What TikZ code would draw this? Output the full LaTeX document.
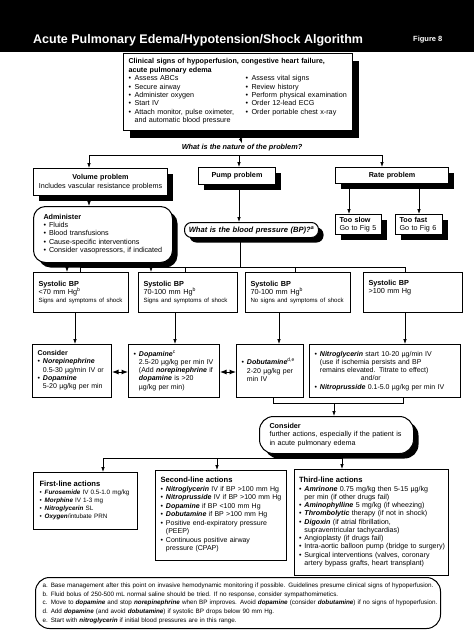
\documentclass[tikz,border=0pt]{standalone}
\usepackage{fontspec}
\setmainfont{Liberation Sans}
\usetikzlibrary{arrows.meta,shadows}
\newcommand\fs[2]{\fontsize{#1}{#2}\selectfont}
\newcommand\bl{\textbullet}
\newcommand\bi[1]{\textbf{\textit{#1}}}
\newcommand\sps[1]{\textsuperscript{#1}}
\newcommand\smtxt{\fs{6.1}{8.3}}
\begin{document}
\begin{tikzpicture}[x=1pt,y=-1pt,
  box/.style={draw, line width=1pt, fill=white, anchor=north west, inner xsep=5pt, inner ysep=1.5pt, align=left, font=\fs{7}{8.3}},
  shad/.style={drop shadow={shadow xshift=5pt, shadow yshift=-5pt, opacity=1, fill=black}},
  arr/.style={-{Latex[length=5pt,width=3.6pt]}, line width=0.8pt},
  ln/.style={line width=0.8pt},
  dbl/.style={{Latex[length=6.5pt,width=5pt]}-{Latex[length=6.5pt,width=5pt]}, line width=1pt}
]
\useasboundingbox (0,0) rectangle (474,632);
% title bar
\fill[black] (0,0) rectangle (474,52);
\node[anchor=base west, text=white, inner sep=0pt, font=\fs{12.5}{14}\bfseries] (title) at (33,43) {Acute Pulmonary Edema/Hypotension/Shock Algorithm};
\node[anchor=base west, text=white, inner sep=0pt, font=\fs{7.5}{9}\bfseries] (fig) at (413,41) {Figure 8};

% top box
\node[box, drop shadow={shadow xshift=6pt, shadow yshift=-7pt, opacity=1, fill=black}, text width=219pt, minimum height=77pt, inner ysep=1pt, font=\fs{7.2}{8.4}] (start) at (123,53) {%
\textbf{Clinical signs of hypoperfusion, congestive heart failure,}\\
\textbf{acute pulmonary edema}\\
\begin{tabular}[t]{@{}l@{\hspace{3.5pt}}p{111pt}@{}l@{\hspace{3.5pt}}l@{}}
\bl & Assess ABCs & \bl & Assess vital signs\\
\bl & Secure airway & \bl & Review history\\
\bl & Administer oxygen & \bl & Perform physical examination\\
\bl & Start IV & \bl & Order 12-lead ECG\\
\bl & Attach monitor, pulse oximeter, & \bl & Order portable chest x-ray\\
 & and automatic blood pressure & &
\end{tabular}};

\node[inner sep=1pt, font=\fs{7.3}{8}\bfseries\itshape] (q1) at (242,148) {What is the nature of the problem?};

% problem boxes
\node[box, shad, text width=124pt, minimum height=27pt, align=center, font=\fs{7.2}{8.6}] (vol) at (33,168) {\textbf{Volume problem}\\Includes vascular resistance problems};
\node[box, shad, text width=67pt, minimum height=17pt, align=center, font=\fs{7.2}{8.3}\bfseries] (pump) at (198,167) {Pump problem};
\node[box, shad, text width=103pt, minimum height=16pt, align=center, font=\fs{7.2}{8.3}\bfseries] (rate) at (335,167) {Rate problem};

\node[box, shad, rounded corners=12pt, inner xsep=10pt, text width=119pt, minimum height=56pt, font=\fs{7.2}{8.3}] (admin) at (33,206) {%
\textbf{Administer}\\
\begin{tabular}[t]{@{}l@{\hspace{3pt}}l@{}}
\bl & Fluids\\
\bl & Blood transfusions\\
\bl & Cause-specific interventions\\
\bl & Consider vasopressors, if indicated
\end{tabular}};

\node[box, shad, rounded corners=7pt, inner xsep=4pt, text width=126pt, minimum height=15pt, align=center, font=\fs{7.6}{8}] (bpq) at (184,222) {\bi{What is the blood pressure (BP)?\sps{a}}};

\node[box, shad, inner xsep=4pt, text width=38pt, minimum height=20pt, font=\fs{7.2}{8.3}] (slow) at (335,214) {\textbf{Too slow}\\Go to Fig 5};
\node[box, shad, inner xsep=4pt, text width=39pt, minimum height=20pt, font=\fs{7.2}{8.3}] (fast) at (395,214) {\textbf{Too fast}\\Go to Fig 6};

% systolic boxes
\node[box, text width=85pt, minimum height=40pt, font=\fs{7.3}{8.3}] (sys1) at (33,272) {\textbf{Systolic BP}\\<70 mm Hg\sps{b}\\\mbox{\smtxt Signs and symptoms of shock}};
\node[box, text width=89pt, minimum height=40pt, font=\fs{7.3}{8.3}] (sys2) at (138,272) {\textbf{Systolic BP}\\70-100 mm Hg\sps{b}\\\mbox{\smtxt Signs and symptoms of shock}};
\node[box, text width=95pt, minimum height=40pt, font=\fs{7.3}{8.3}] (sys3) at (245,272) {\textbf{Systolic BP}\\70-100 mm Hg\sps{b}\\\mbox{\smtxt No signs and symptoms of shock}};
\node[box, text width=89pt, minimum height=40pt, font=\fs{7.3}{8.3}] (sys4) at (363,272) {\textbf{Systolic BP}\\>100 mm Hg\\\strut};

% treatment boxes
\node[box, text width=69pt, minimum height=53pt] (c1) at (32,344) {%
\textbf{Consider}\\
\begin{tabular}[t]{@{}l@{\hspace{3pt}}l@{}}
\bl & \bi{Norepinephrine}\\
 & 0.5-30 µg/min IV or\\
\bl & \bi{Dopamine}\\
 & 5-20 µg/kg per min
\end{tabular}};
\node[box, text width=81pt, minimum height=53pt] (c2) at (128,344) {%
\begin{tabular}[t]{@{}l@{\hspace{3pt}}l@{}}
\bl & \bi{Dopamine}\sps{c}\\
 & 2.5-20 µg/kg per min IV\\
 & (Add \bi{norepinephrine} if\\
 & \bi{dopamine} is >20\\
 & µg/kg per min)
\end{tabular}};
\node[box, text width=57pt, minimum height=53pt] (c3) at (236,344) {%
\begin{tabular}[t]{@{}l@{\hspace{3pt}}l@{}}
\bl & \bi{Dobutamine}\sps{d,e}\\
 & 2-20 µg/kg per\\
 & min IV
\end{tabular}};
\node[box, text width=141pt, minimum height=53pt] (c4) at (309,344) {%
\begin{tabular}[t]{@{}l@{\hspace{3pt}}l@{}}
\bl & \bi{Nitroglycerin} start 10-20 µg/min IV\\
 & (use if ischemia persists and BP\\
 & remains elevated. Titrate to effect)\\
 & \hspace*{41pt}and/or\\
\bl & \bi{Nitroprusside} 0.1-5.0 µg/kg per min IV
\end{tabular}};

\node[box, shad, rounded corners=14pt, inner xsep=10pt, text width=134pt, minimum height=37pt, font=\fs{7.2}{8.3}] (cons) at (259,416) {\textbf{Consider}\\further actions, especially if the patient is\\in acute pulmonary edema};

% action boxes
\node[box, inner xsep=6pt, text width=92pt, minimum height=57pt, font=\fs{6.3}{8.2}] (first) at (33,472) {%
{\fs{7.6}{8.5}\bfseries First-line actions}\\
\begin{tabular}[t]{@{}l@{\hspace{3pt}}l@{}}
\bl & \bi{Furosemide} IV 0.5-1.0 mg/kg\\
\bl & \bi{Morphine} IV 1-3 mg\\
\bl & \bi{Nitroglycerin} SL\\
\bl & \bi{Oxygen}/intubate PRN
\end{tabular}};
\node[box, text width=121pt, minimum height=90pt, font=\fs{7}{8.5}] (second) at (155,470) {%
{\fs{7.6}{8.5}\bfseries Second-line actions}\\
\begin{tabular}[t]{@{}l@{\hspace{3pt}}l@{}}
\bl & \bi{Nitroglycerin} IV if BP >100 mm Hg\\
\bl & \bi{Nitroprusside} IV if BP >100 mm Hg\\
\bl & \bi{Dopamine} if BP <100 mm Hg\\
\bl & \bi{Dobutamine} if BP >100 mm Hg\\
\bl & Positive end-expiratory pressure\\
 & (PEEP)\\
\bl & Continuous positive airway\\
 & pressure (CPAP)
\end{tabular}};
\node[box, inner xsep=4.5pt, text width=145pt, minimum height=106pt, font=\fs{7.1}{8.25}] (third) at (294,469) {%
{\fs{7.6}{8.5}\bfseries Third-line actions}\\
\begin{tabular}[t]{@{}l@{\hspace{3pt}}l@{}}
\bl & \bi{Amrinone} 0.75 mg/kg then 5-15 µg/kg\\
 & per min (if other drugs fail)\\
\bl & \bi{Aminophylline} 5 mg/kg (if wheezing)\\
\bl & \bi{Thrombolytic} therapy (if not in shock)\\
\bl & \bi{Digoxin} (if atrial fibrillation,\\
 & supraventricular tachycardias)\\
\bl & Angioplasty (if drugs fail)\\
\bl & Intra-aortic balloon pump (bridge to surgery)\\
\bl & Surgical interventions (valves, coronary\\
 & artery bypass grafts, heart transplant)
\end{tabular}};

% footnotes
\node[box, rounded corners=14pt, inner xsep=7pt, text width=391pt, minimum height=51pt, font=\fs{6.3}{8.7}] (foot) at (35,577) {%
\begin{tabular}[t]{@{}l@{\hspace{3pt}}l@{}}
a. & Base management after this point on invasive hemodynamic monitoring if possible. Guidelines presume clinical signs of hypoperfusion.\\
b. & Fluid bolus of 250-500 mL normal saline should be tried. If no response, consider sympathomimetics.\\
c. & Move to \bi{dopamine} and stop \bi{norepinephrine} when BP improves. Avoid \bi{dopamine} (consider \bi{dobutamine}) if no signs of hypoperfusion.\\
d. & Add \bi{dopamine} (and avoid \bi{dobutamine}) if systolic BP drops below 90 mm Hg.\\
e. & Start with \bi{nitroglycerin} if initial blood pressures are in this range.
\end{tabular}};

% ---- connectors ----
\draw[arr] (start.south) -- (q1.north);
\coordinate (sL) at (89,155);
\coordinate (sM) at (239,155);
\coordinate (sR) at (382,155);
\draw[ln] (sL) -- (sR);
\draw[arr] (sL) -- (sL |- vol.north);
\draw[arr] (sM) -- (sM |- pump.north);
\draw[arr] (sR) -- (sR |- rate.north);

\coordinate (va) at (89,200);
\draw[arr] (va |- vol.south) -- (va |- admin.north);
\coordinate (pb) at (239,200);
\draw[arr] (pb |- pump.south) -- (pb |- bpq.north);
\coordinate (rs) at (349,200);
\coordinate (rf) at (419,200);
\draw[arr] (rs |- rate.south) -- (rs |- slow.north);
\draw[arr] (rf |- rate.south) -- (rf |- fast.north);

\coordinate (bm) at (240,267);
\coordinate (b1) at (80,267);
\coordinate (b2) at (185,267);
\coordinate (b3) at (295,267);
\coordinate (b4) at (405,267);
\draw[ln] (bm |- bpq.south) -- (bm);
\draw[ln] (b1 |- sys1.north) -- (b1) -- (b4) -- (b4 |- sys4.north);
\draw[ln] (b2) -- (b2 |- sys2.north);
\draw[ln] (b3) -- (b3 |- sys3.north);

\coordinate (a1) at (67,265);
\coordinate (a2) at (151,265);
\draw[arr] (a1 |- admin.south) -- (a1 |- sys1.north);
\draw[arr] (a2 |- admin.south) -- (a2 |- sys2.north);

\coordinate (d1) at (75,330);
\coordinate (d2) at (175,330);
\coordinate (d3) at (279,330);
\coordinate (d4) at (405,330);
\draw[arr] (d1 |- sys1.south) -- (d1 |- c1.north);
\draw[arr] (d2 |- sys2.south) -- (d2 |- c2.north);
\draw[arr] (d3 |- sys3.south) -- (d3 |- c3.north);
\draw[arr] (d4 |- sys4.south) -- (d4 |- c4.north);

\coordinate (dy) at (0,372);
\draw[dbl] (c1.east |- dy) -- (c2.west |- dy);
\draw[dbl] (c2.east |- dy) -- (c3.west |- dy);

\coordinate (j3) at (273,403);
\coordinate (j4) at (403,403);
\coordinate (jm) at (334,403);
\draw[ln] (j3 |- c3.south) -- (j3) -- (j4) -- (j4 |- c4.south);
\draw[arr] (jm) -- (jm |- cons.north);

\coordinate (km) at (310,458);
\coordinate (kL) at (103,458);
\coordinate (kC) at (217,458);
\coordinate (kR) at (342,458);
\draw[ln] (km |- cons.south) -- (km);
\draw[ln] (kL) -- (kR);
\draw[arr] (kL) -- (kL |- first.north);
\draw[arr] (kC) -- (kC |- second.north);
\draw[arr] (kR) -- (kR |- third.north);
\end{tikzpicture}
\end{document}
